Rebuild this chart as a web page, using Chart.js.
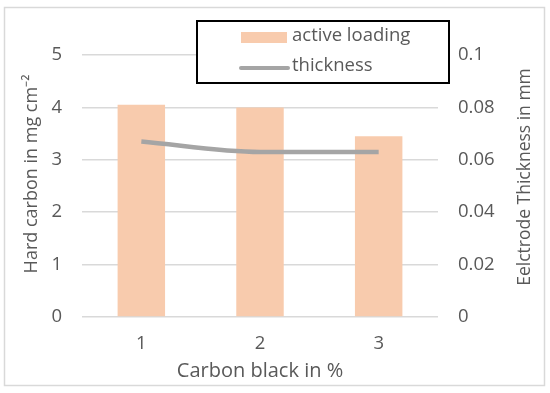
<!DOCTYPE html>
<html>
<head>
<meta charset="utf-8">
<script src="https://cdn.jsdelivr.net/npm/chart.js@4/dist/chart.umd.min.js"></script>
<style>
  html, body { margin: 0; padding: 0; background: #fff; }
  #wrap { width: 550px; height: 393px; }
</style>
</head>
<body>
<div id="wrap"><canvas id="chart" width="550" height="393"></canvas></div>
<script>
const carbonBlack = ['1', '2', '3'];
const activeLoading = [4.05, 4.0, 3.45];
const thickness = [0.067, 0.063, 0.063];
const leftTicks = [0, 1, 2, 3, 4, 5];
const rightTicks = [0, 0.02, 0.04, 0.06, 0.08, 0.1];

const textColor = '#595959';
const fontFamily = '"Open Sans", sans-serif';
const leftTitle = 'Hard carbon in mg cm⁻²';
const rightTitle = 'Eelctrode Thickness in mm';

// border, boxed legend and both axis titles (both read bottom to top)
const decorations = {
    id: 'decorations',
    beforeDraw(chart) {
        const ctx = chart.ctx;
        ctx.save();
        ctx.fillStyle = '#fff';
        ctx.fillRect(0, 0, chart.width, chart.height);
        ctx.strokeStyle = '#D9D9D9';
        ctx.lineWidth = 1.5;
        ctx.strokeRect(4.5, 7.5, 540, 378);
        ctx.restore();
    },
    afterDraw(chart) {
        const ctx = chart.ctx;
        ctx.save();
        // legend box
        ctx.fillStyle = '#fff';
        ctx.fillRect(197, 21, 252, 62);
        ctx.strokeStyle = '#000';
        ctx.lineWidth = 2;
        ctx.strokeRect(197, 21, 252, 62);

        const ds = chart.data.datasets;
        const bars = ds.find(d => d.type !== 'line');
        const line = ds.find(d => d.type === 'line');
        ctx.font = '18.5px ' + fontFamily;
        ctx.textBaseline = 'middle';
        ctx.textAlign = 'left';

        ctx.fillStyle = bars.backgroundColor;
        ctx.fillRect(241, 32, 46, 11);
        ctx.fillStyle = textColor;
        ctx.fillText(bars.label, 292, 36);

        ctx.strokeStyle = line.borderColor;
        ctx.lineWidth = 4;
        ctx.lineCap = 'round';
        ctx.beginPath();
        ctx.moveTo(241, 68);
        ctx.lineTo(288, 68);
        ctx.stroke();
        ctx.fillText(line.label, 292, 66);

        // axis titles
        ctx.textAlign = 'center';
        ctx.save();
        ctx.translate(32, 174);
        ctx.rotate(-Math.PI / 2);
        ctx.font = '18px ' + fontFamily;
        ctx.fillText(leftTitle, 0, 0);
        ctx.restore();

        ctx.translate(525, 177);
        ctx.rotate(-Math.PI / 2);
        ctx.font = '17.5px ' + fontFamily;
        ctx.fillText(rightTitle, 0, 0);
        ctx.restore();
    }
};

new Chart(document.getElementById('chart').getContext('2d'), {
    type: 'bar',
    data: {
        labels: carbonBlack,
        datasets: [{
            label: 'active loading',
            data: activeLoading,
            yAxisID: 'y',
            backgroundColor: '#F8CBAD',
            categoryPercentage: 1,
            barPercentage: 0.4,
            order: 1
        }, {
            type: 'line',
            label: 'thickness',
            data: thickness,
            yAxisID: 'y1',
            borderColor: '#A5A5A5',
            borderWidth: 4.5,
            pointRadius: 0,
            cubicInterpolationMode: 'monotone',
            order: 0
        }]
    },
    options: {
        responsive: false,
        animation: false,
        layout: { padding: { top: 55, left: 0, right: 0, bottom: 0 } },
        plugins: {
            legend: { display: false },
            tooltip: { enabled: false }
        },
        scales: {
            x: {
                grid: { display: false, drawTicks: false },
                border: { display: false },
                ticks: { color: textColor, font: { family: fontFamily, size: 18.5 }, padding: 16 },
                title: {
                    display: true,
                    text: 'Carbon black in %',
                    color: textColor,
                    font: { family: fontFamily, size: 20 },
                    padding: { top: 0, bottom: 10 }
                },
                afterFit(scale) { scale.height = 76; }
            },
            y: {
                position: 'left',
                min: 0,
                max: 5,
                afterBuildTicks(scale) { scale.ticks = leftTicks.map(v => ({ value: v })); },
                grid: { color: '#D9D9D9', lineWidth: 1.5, drawTicks: false },
                border: { display: false },
                ticks: { color: textColor, font: { family: fontFamily, size: 18.5 }, padding: 20 },
                afterFit(scale) { scale.width = 82; }
            },
            y1: {
                position: 'right',
                min: 0,
                max: 0.1,
                afterBuildTicks(scale) { scale.ticks = rightTicks.map(v => ({ value: v })); },
                grid: { display: false, drawTicks: false },
                border: { display: false },
                ticks: {
                    color: textColor,
                    font: { family: fontFamily, size: 18.5 },
                    padding: 20,
                    callback: v => String(+v.toFixed(2))
                },
                afterFit(scale) { scale.width = 112; }
            }
        }
    },
    plugins: [decorations]
});
</script>
</body>
</html>
